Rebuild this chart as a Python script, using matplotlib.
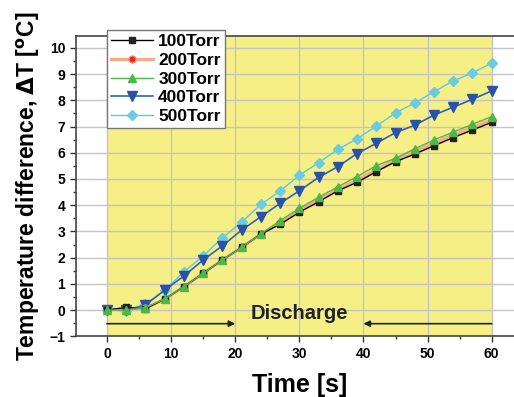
import matplotlib

matplotlib.use("Agg")
import matplotlib.pyplot as plt
from matplotlib.ticker import MultipleLocator

plt.rcParams["font.family"] = ["Liberation Sans", "DejaVu Sans"]
plt.rcParams["font.weight"] = "bold"
plt.rcParams["mathtext.default"] = "bf"

time_s = [0, 3, 6, 9, 12, 15, 18, 21, 24, 27, 30, 33, 36, 39, 42, 45, 48, 51, 54, 57, 60]

dt_100 = [0.0, 0.10, 0.05, 0.42, 0.89, 1.40, 1.91, 2.39, 2.90, 3.27, 3.73, 4.13,
          4.55, 4.87, 5.28, 5.66, 5.95, 6.27, 6.58, 6.87, 7.16]
dt_200 = [0.0, 0.05, 0.07, 0.42, 0.89, 1.40, 1.91, 2.39, 2.90, 3.33, 3.80, 4.20,
          4.60, 4.95, 5.37, 5.73, 6.05, 6.37, 6.68, 6.97, 7.25]
dt_300 = [0.0, 0.0, 0.09, 0.42, 0.89, 1.40, 1.91, 2.39, 2.90, 3.41, 3.88, 4.30,
          4.70, 5.09, 5.51, 5.79, 6.15, 6.49, 6.79, 7.09, 7.38]
dt_400 = [0.0, 0.0, 0.19, 0.76, 1.30, 1.91, 2.45, 3.05, 3.56, 4.07, 4.55, 5.06,
          5.47, 5.97, 6.36, 6.77, 7.05, 7.44, 7.74, 8.04, 8.36]
dt_500 = [0.0, -0.04, 0.24, 0.76, 1.46, 2.06, 2.76, 3.35, 4.03, 4.54, 5.14, 5.62,
          6.13, 6.53, 7.02, 7.52, 7.90, 8.33, 8.74, 9.05, 9.42]

fig = plt.figure(figsize=(5.14, 3.97), dpi=100)
# axes run past the right edge of the figure, as in the cropped original
ax = fig.add_axes([0.147, 0.153, 0.872, 0.756])
ax.set_facecolor("white")
ax.axvspan(0, 60, color="#f6ef86", lw=0, zorder=0.2)

ax.plot(time_s, dt_100, color="black", lw=1.0, marker="s", ms=5,
        mfc="#222222", mec="#222222", label="100Torr", zorder=6)
ax.plot(time_s, dt_200, color="#f9a98a", lw=2.2, marker="o", ms=5,
        mfc="#e8281e", mec="#f08a6a", label="200Torr", zorder=5)
ax.plot(time_s, dt_300, color="#4cb848", lw=1.0, marker="^", ms=6,
        mfc="#4cb848", mec="#4cb848", label="300Torr", zorder=7)
ax.plot(time_s, dt_400, color="#2f63b8", lw=1.2, marker="v", ms=7,
        mfc="#2a52a8", mec="#2a52a8", label="400Torr", zorder=4)
ax.plot(time_s, dt_500, color="#5ec8e0", lw=1.0, marker="D", ms=5.5,
        mfc="#6acbe2", mec="#6acbe2", label="500Torr", zorder=3)

ax.set_xlim(-4.9, 65)
ax.set_ylim(-1, 10.45)
ax.xaxis.set_major_locator(MultipleLocator(10))
ax.xaxis.set_minor_locator(MultipleLocator(5))
ax.yaxis.set_major_locator(MultipleLocator(1))
ax.yaxis.set_minor_locator(MultipleLocator(0.5))
ax.grid(True, which="major", color="#c4c4c4", lw=1.0, zorder=0.5)
ax.set_axisbelow(True)
ax.tick_params(which="major", direction="out", length=4, width=1,
               labelsize=10, color="#333333")
ax.tick_params(which="minor", direction="out", length=2.5, width=1,
               color="#333333")
for spine in ax.spines.values():
    spine.set_color("#444444")
    spine.set_linewidth(1.2)

ax.set_xlabel("Time [s]", fontsize=18, fontweight="bold", labelpad=9)
ax.set_ylabel(r"Temperature difference, $\Delta$T [$^{o}$C]", fontsize=16.5,
              fontweight="bold", labelpad=5)

# discharge markers
ax.annotate("", xy=(20, -0.52), xytext=(0, -0.52),
            arrowprops=dict(arrowstyle="-|>", color="#222222", lw=1.2,
                            mutation_scale=9, shrinkA=0, shrinkB=0))
ax.annotate("", xy=(40, -0.52), xytext=(60, -0.52),
            arrowprops=dict(arrowstyle="-|>", color="#222222", lw=1.2,
                            mutation_scale=9, shrinkA=0, shrinkB=0))
ax.text(30, -0.12, "Discharge", ha="center", va="center", fontsize=14.5,
        fontweight="bold", color="#222222")

leg = ax.legend(loc="upper left", bbox_to_anchor=(0, 10.69),
                bbox_transform=ax.transData,
                prop={"weight": "bold", "size": 12.5}, frameon=True,
                fancybox=False, borderpad=0.25, labelspacing=0.2,
                handlelength=2.4, handletextpad=0.3, borderaxespad=0.0)
leg.get_frame().set_edgecolor("#777777")
leg.get_frame().set_facecolor("white")
leg.get_frame().set_alpha(1.0)
leg.set_zorder(10)

fig.savefig("out.png", dpi=100)
